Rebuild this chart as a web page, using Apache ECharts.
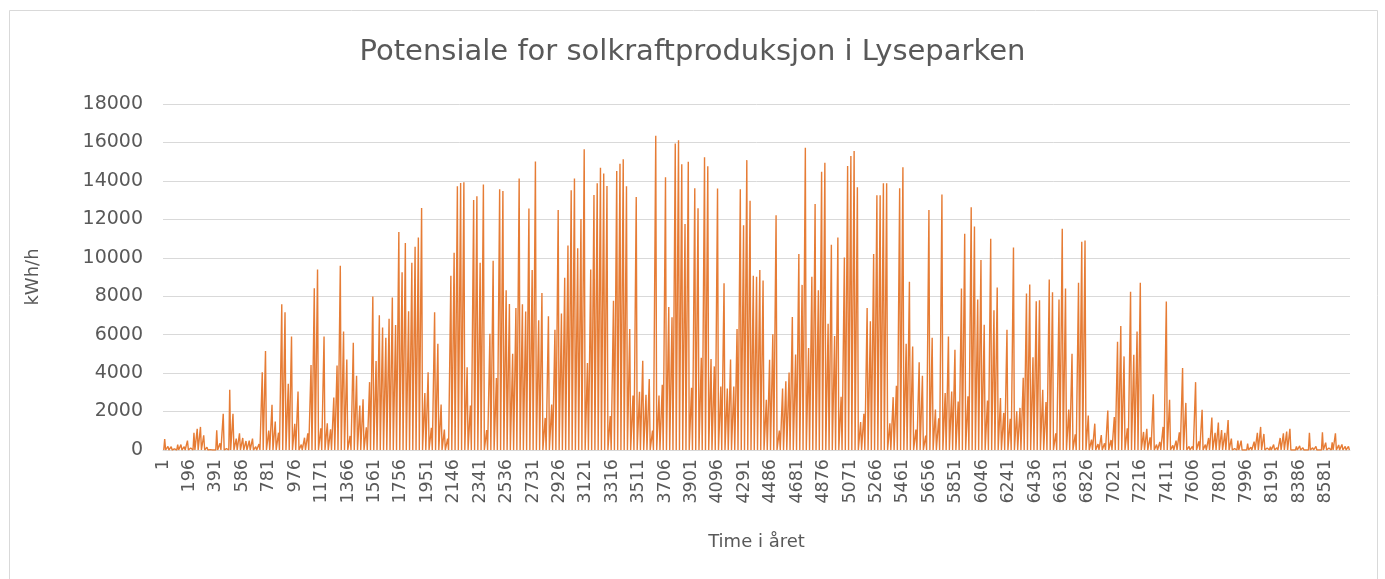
<!DOCTYPE html>
<html>
<head>
<meta charset="utf-8">
<script src="https://cdn.jsdelivr.net/npm/echarts@6/dist/echarts.min.js"></script>
<style>
html,body{margin:0;padding:0;background:#fff;}
#c{width:1385px;height:579px;}
</style>
</head>
<body>
<div id="c"></div>
<script>
// Daily peak output (kWh/h), one value per day, in four parts
const peaksPart1 = [575,190,175,60,280,280,175,490,100,900,1100,1200,765,140,20,20,1025,350,1880,70,3130,1880,590,870,625,470,490,590,
  175,310,4050,5150,1010,2350,1480,900,7580,7160,3440,5900,1360,3040,280,640,870,4420,8420,9390,1130,5910,1390,1080,2730,4400,9580,6170,4710,730,5580,
  3860,2310,2640,1180,3530,7980,4630,7010,6370,5840,6830,7930,6500,11340,9250,10770,7220,9740,10570,11060,12590,2960,4050,1150,7160,5530,2370,1060,590,9060,10260];
const peaksPart2 = [13720,13890,13930,4300,2310,13010,13200,9740,13810,1040,6050,9840,3740,13560,13480,8310,7600,5010,7390,14120,7580,7200,12560,9360,15010,6750,8170,1670,6960,2370,6260,
  12490,7100,8960,10640,13510,14120,10500,12020,15650,4520,9390,13270,13880,14680,14380,13740,1770,7770,14520,14890,15130,13720,6300,2830,13160,3030,4640,2870,3690,1010,
  16350,2830,3390,14190,7440,6900,15950,16120,14870,11760,14990,3240,13620,12570,4800,15230,14760,4730,4350,13600,3300,8680,3200,4710,3300,6300,13560,11690,15080,12970,9060];
const peaksPart3 = [9010,9360,8820,2610,4700,6020,12210,1010,3200,3580,4030,6920,4970,10190,8590,15720,5300,9010,12800,8310,14470,14940,6570,10680,5930,11060,2770,10020,14780,15300,15550,
  13670,1460,1880,7390,6700,10190,13250,13250,13880,13880,1390,2750,3340,13620,14710,5530,8750,5390,1060,4570,3860,750,12490,5840,2100,1650,13290,2970,5910,3040,5220,
  2520,8400,11250,2800,12630,11630,7830,9880,6520,2570,10990,7270,8450,2710,1930,6260,1620,10540,2020,2190,3760,8140,8610,4830,7740,7790,3130,2500,8870,8210];
const peaksPart4 = [870,7830,11510,8400,2100,5010,820,8700,10830,10900,1790,540,1370,310,780,350,2050,520,1720,5630,6450,4870,1130,8230,4960,6170,8700,940,1100,660,2900,
  280,420,1200,7720,2610,240,490,920,4260,2450,190,190,3530,450,2090,280,625,1690,890,1430,1040,890,1560,590,70,490,490,0,330,140,435,
  890,1200,835,100,175,280,120,625,870,960,1100,0,190,210,120,0,900,120,190,0,920,380,100,400,870,260,290,190,190];

const hoursInYear = 8760;
const yTicks = {min: 0, max: 18000, interval: 2000};

const dailyPeaks = peaksPart1.concat(peaksPart2, peaksPart3, peaksPart4);
const hourCategories = [];
for (let h = 1; h <= hoursInYear; h++) hourCategories.push(String(h));

// night hours are zero, the day's peak sits at midday
const seriesData = [];
dailyPeaks.forEach((v, d) => {
  seriesData.push([d * 24 + 5, 0]);
  seriesData.push([d * 24 + 12, v]);
  seriesData.push([d * 24 + 19, 0]);
});

const chart = echarts.init(document.getElementById('c'), null, {renderer: 'canvas'});
const font = 'DejaVu Sans';
chart.setOption({
  animation: false,
  backgroundColor: '#fff',
  title: {
    text: 'Potensiale for solkraftproduksjon i Lyseparken',
    left: 'center', top: 33,
    textStyle: {fontFamily: font, fontSize: 29, fontWeight: 'normal', color: '#595959'}
  },
  graphic: [{
    type: 'rect', shape: {x: 9.5, y: 10.5, width: 1368, height: 600},
    style: {fill: 'none', stroke: '#D9D9D9', lineWidth: 1}, silent: true
  }],
  grid: {left: 163, right: 35, top: 104, bottom: 129, containLabel: false},
  xAxis: {
    type: 'category',
    data: hourCategories,
    boundaryGap: true,
    name: 'Time i året',
    nameLocation: 'middle',
    nameGap: 83,
    nameTextStyle: {fontFamily: font, fontSize: 18, color: '#595959'},
    axisLine: {lineStyle: {color: '#D9D9D9', width: 1}},
    axisTick: {show: false},
    axisLabel: {interval: 194, rotate: 90, fontFamily: font, fontSize: 17.5, color: '#595959', margin: 9},
    splitLine: {show: false}
  },
  yAxis: {
    type: 'value',
    min: yTicks.min, max: yTicks.max, interval: yTicks.interval,
    name: 'kWh/h',
    nameLocation: 'middle',
    nameGap: 121,
    nameTextStyle: {fontFamily: font, fontSize: 18, color: '#595959'},
    axisLine: {show: false},
    axisTick: {show: false},
    axisLabel: {fontFamily: font, fontSize: 19, color: '#595959', margin: 20, formatter: v => String(v)},
    splitLine: {lineStyle: {color: '#D9D9D9', width: 1}}
  },
  series: [{
    type: 'line',
    data: seriesData,
    showSymbol: false,
    symbol: 'none',
    sampling: null,
    lineStyle: {color: '#E67C35', width: 1.4},
    itemStyle: {color: '#E67C35'}
  }]
});
</script>
</body>
</html>
